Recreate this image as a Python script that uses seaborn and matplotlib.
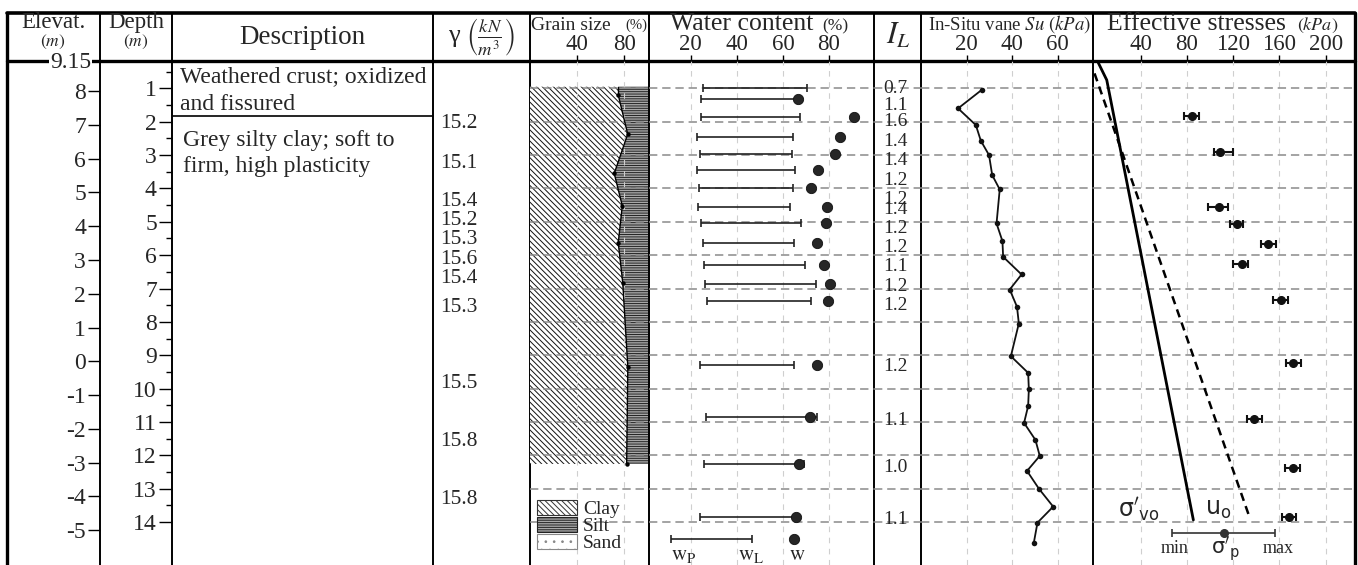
import numpy as np
import matplotlib
matplotlib.use("Agg")
import matplotlib.pyplot as plt
from matplotlib.patches import Patch
import seaborn as sns

elev_ticks = [8, 7, 6, 5, 4, 3, 2, 1, 0, -1, -2, -3, -4, -5]
ground_elev = "9.15"
depth_ticks = list(range(1, 15))
depth_minor = [d + 0.5 for d in range(0, 14)]

layer_boundary = 1.82
crust_text = ["Weathered crust; oxidized", "and fissured"]
clay_text = ["Grey silty clay; soft to", "firm, high plasticity"]

gamma_depth = [2.05, 3.25, 4.40, 4.95, 5.53, 6.13, 6.70, 7.57, 9.85, 11.6, 13.34]
gamma_val = ["15.2", "15.1", "15.4", "15.2", "15.3", "15.6", "15.4", "15.3", "15.5", "15.8", "15.8"]

grain_depth = [0.95, 1.2, 2.37, 3.55, 4.52, 5.63, 6.83, 9.35, 12.26]
clay_pct = [74.8, 74.8, 82.8, 71.4, 78.2, 74.8, 78.6, 82.9, 81.9]

wc_depth = [1.0, 1.33, 1.85, 2.45, 2.97, 3.45, 4.0, 4.57, 5.05, 5.65, 6.3, 6.87, 7.37,
            9.3, 10.86, 12.26, 13.86]
w_p = [25.2, 24.3, 24.3, 22.9, 23.9, 22.9, 23.5, 23.3, 24.5, 25.2, 25.9, 26.2, 27.1,
       23.9, 26.5, 25.8, 23.9]
w_l = [70.5, 66.6, 67.4, 64.4, 64.0, 65.2, 64.4, 63.0, 67.7, 64.7, 69.8, 74.2, 72.4,
       64.7, 74.8, 69.2, 65.7]
w_n = [np.nan, 66.6, 90.7, 84.6, 82.5, 75.2, 72.4, 79.1, 78.9, 74.8, 77.9, 80.6, 79.6,
       74.7, 71.9, 67.2, 65.7]

il_depth = [1.0, 1.5, 2.0, 2.6, 3.15, 3.75, 4.33, 4.62, 5.2, 5.77, 6.33, 6.93, 7.5,
            9.33, 10.97, 12.36, 13.94]
il_val = ["0.7", "1.1", "1.6", "1.4", "1.4", "1.2", "1.2", "1.4", "1.2", "1.2", "1.1",
          "1.2", "1.2", "1.2", "1.1", "1.0", "1.1"]

su_depth = [1.05, 1.6, 2.1, 2.57, 3.0, 3.6, 4.03, 5.05, 5.58, 6.05, 6.58, 7.03, 7.55,
            8.05, 9.03, 9.53, 10.02, 10.52, 11.03, 11.54, 12.02, 12.47, 13.01, 13.54,
            14.02, 14.62]
su = [26.6, 16.3, 24.1, 26.3, 29.9, 31.3, 34.6, 33.2, 35.8, 36.1, 44.2, 39.0, 42.2,
      43.0, 39.5, 47.1, 47.4, 47.1, 45.3, 50.3, 52.2, 46.6, 51.9, 58.1, 51.2, 49.6]

svo_depth = [0.0, 0.75, 13.94]
svo = [0.0, 10.6, 85.5]
u0_depth = [0.55, 13.9]
u0 = [0.0, 134.5]

sp_depth = [1.83, 2.92, 4.57, 5.07, 5.67, 6.27, 7.35, 9.24, 10.92, 12.37, 13.86]
sp = [84.1, 108.6, 108.0, 123.5, 150.3, 127.3, 161.1, 172.0, 138.2, 171.5, 168.3]
sp_min = [77.7, 103.4, 98.4, 117.2, 143.8, 120.1, 154.2, 165.4, 131.7, 164.8, 161.9]
sp_max = [90.4, 120.1, 115.7, 128.2, 157.0, 133.0, 167.6, 178.6, 144.6, 177.8, 174.3]

# legend samples drawn inside the columns
wc_key = {"depth": 14.5, "wp": 11.3, "wl": 46.4, "w": 64.8, "label_depth": 15.0}
sp_key = {"depth": 14.34, "min": 66.8, "p": 111.8, "max": 156.1, "label_depth": 14.8}
svo_label = (37.9, 13.6)
u0_label = (107.1, 13.6)

# ---- style ----
sns.set_theme(style="white")
plt.rcParams["font.family"] = ["Liberation Serif", "DejaVu Serif"]
plt.rcParams["mathtext.fontset"] = "stix"
plt.rcParams["axes.unicode_minus"] = False
plt.rcParams["lines.scale_dashes"] = False
plt.rcParams["hatch.linewidth"] = 0.7

W, H = 1358, 565
TOP_Y, HEAD_Y = 12.5, 60.7
D_TOP, D_BOT = 0.17, 15.29
fig = plt.figure(figsize=(W / 100, H / 100), dpi=100)

frame = fig.add_axes([0, 0, 1, 1])
frame.set_xlim(0, W)
frame.set_ylim(H, 0)
frame.axis("off")
frame.set_facecolor("none")


def px_axes(x0, x1, y0=HEAD_Y, y1=H):
    ax = fig.add_axes([x0 / W, 1 - y1 / H, (x1 - x0) / W, (y1 - y0) / H])
    ax.set_facecolor("none")
    for s in ax.spines.values():
        s.set_visible(False)
    return ax


def data_column(ax, xlim, xticks, vgrid=True):
    ax.set_ylim(D_BOT, D_TOP)
    ax.set_yticks(depth_ticks)
    ax.tick_params(axis="y", left=False, labelleft=False)
    ax.set_xlim(*xlim)
    ax.xaxis.tick_top()
    ax.set_xticks(xticks)
    ax.tick_params(axis="x", top=True, bottom=False, direction="out", length=4,
                   width=1, color="black", pad=0.2, labelsize=16.5)
    ax.set_xlabel("")
    ax.set_ylabel("")
    ax.set_axisbelow("line")
    ax.yaxis.grid(True, color="#8a8a8a", lw=1.1, linestyle=(0, (6, 3.5)))
    ax.xaxis.grid(vgrid, color="#cfcfcf", lw=0.8, linestyle=(0, (4, 4)))


# table frame
frame.plot([7, 1355], [TOP_Y, TOP_Y], color="black", lw=2.6)
frame.plot([7, 1355], [HEAD_Y, HEAD_Y], color="black", lw=2.4)
for xb in [7, 1355]:
    frame.plot([xb, xb], [TOP_Y, H], color="black", lw=2.4)
for xs in [100, 172, 433, 530, 649, 874, 921, 1093]:
    frame.plot([xs, xs], [TOP_Y, H], color="black", lw=1.4)

# header
frame.text(53, 28, "Elevat.", ha="center", va="baseline", fontsize=16.5)
frame.text(53, 42, r"$(m)$", ha="center", va="center", fontsize=12.5)
frame.text(136, 28, "Depth", ha="center", va="baseline", fontsize=16.5)
frame.text(136, 42, r"$(m)$", ha="center", va="center", fontsize=12.5)
frame.text(302, 37, "Description", ha="center", va="center", fontsize=19.5)
frame.text(481, 37, r"γ $\left(\frac{kN}{m^3}\right)$", ha="center", va="center", fontsize=19)
frame.text(531, 30, "Grain size", ha="left", va="baseline", fontsize=14)
frame.text(647, 29, "(%)", ha="right", va="baseline", fontsize=10.5)
frame.text(670, 30, "Water content", ha="left", va="baseline", fontsize=18.5)
frame.text(822, 30, "(%)", ha="left", va="baseline", fontsize=12.5)
frame.text(898, 36, r"$I_L$", ha="center", va="center", fontsize=22)
frame.text(928, 30, r"In-Situ vane $Su$ $(kPa)$", ha="left", va="baseline", fontsize=13.5)
frame.text(1107, 30, "Effective stresses", ha="left", va="baseline", fontsize=18.5)
frame.text(1297, 30, r"$(kPa)$", ha="left", va="baseline", fontsize=13)

# elevation axis
ax_el = px_axes(100, 172)
ax_el.set_ylim(-6.03, 8.90)
ax_el.set_yticks(elev_ticks)
ax_el.set_yticklabels([str(e) for e in elev_ticks])
ax_el.set_xticks([])
ax_el.tick_params(axis="y", left=True, direction="out", length=8.6, width=1,
                  color="black", pad=1.5, labelsize=17)
ax_el.annotate(ground_elev, xy=(0, 1), xycoords="axes fraction", xytext=(-6.5, -1),
               textcoords="offset points", ha="right", va="center", fontsize=17,
               bbox=dict(boxstyle="square,pad=0.05", fc="white", ec="none"))

# depth axis + description
ax_ds = px_axes(172, 433)
ax_ds.set_ylim(D_BOT, D_TOP)
ax_ds.set_xlim(0, 1)
ax_ds.set_xticks([])
ax_ds.set_yticks(depth_ticks)
ax_ds.set_yticks(depth_minor, minor=True)
ax_ds.tick_params(axis="y", which="major", left=True, direction="out", length=9.4,
                  width=1, color="black", pad=1.5, labelsize=17)
ax_ds.tick_params(axis="y", which="minor", left=True, direction="out", length=4.3,
                  width=1, color="black")
ax_ds.axhline(layer_boundary, color="black", lw=1.2)
ax_ds.text(0.03, 0.65, crust_text[0], va="center", ha="left", fontsize=17)
ax_ds.text(0.03, 1.47, crust_text[1], va="center", ha="left", fontsize=17)
ax_ds.text(0.042, 2.55, clay_text[0], va="center", ha="left", fontsize=17)
ax_ds.text(0.042, 3.35, clay_text[1], va="center", ha="left", fontsize=17)

# unit weight
ax_g = px_axes(433, 530)
ax_g.set_ylim(D_BOT, D_TOP)
ax_g.set_xlim(0, 1)
ax_g.set_xticks([])
ax_g.set_yticks([])
for d, g in zip(gamma_depth, gamma_val):
    ax_g.text(0.07, d, g, va="center", ha="left", fontsize=15.5)

# grain size
clay_hatch = "\\\\\\\\\\\\"
silt_hatch = "-------"
ax_gs = px_axes(530, 648)
ax_gs.fill_betweenx(grain_depth, 0, clay_pct, facecolor="white", edgecolor="#111111",
                    hatch=clay_hatch, lw=0, zorder=1)
ax_gs.fill_betweenx(grain_depth, clay_pct, 100, facecolor="#a8a8a8", edgecolor="#222222",
                    hatch=silt_hatch, lw=0, zorder=1)
sns.lineplot(x=clay_pct[1:], y=grain_depth[1:], sort=False, estimator=None, ax=ax_gs,
             color="black", lw=1.0, marker="o", markersize=3.2, markeredgewidth=0, zorder=3)
ax_gs.plot(clay_pct[:2], grain_depth[:2], color="black", lw=1.0, zorder=3)
data_column(ax_gs, (0, 100), [40, 80])
ax_gs.legend(handles=[Patch(facecolor="white", edgecolor="#333333", hatch=clay_hatch, lw=0.8, label="Clay"),
                      Patch(facecolor="#a8a8a8", edgecolor="#222222", hatch=silt_hatch, lw=0.8, label="Silt"),
                      Patch(facecolor="white", edgecolor="#888888", hatch="..", lw=0.8, label="Sand")],
             loc="lower left", bbox_to_anchor=(0.06, 0.025), frameon=False, fontsize=14,
             handlelength=2.05, handleheight=0.78, handletextpad=0.3, labelspacing=-0.05,
             borderpad=0, borderaxespad=0)

# water content
ax_w = px_axes(649, 874)
wp_a, wl_a = np.array(w_p), np.array(w_l)
ax_w.errorbar(wp_a, wc_depth, xerr=[np.zeros_like(wp_a), wl_a - wp_a], fmt="none",
              ecolor="#222222", elinewidth=1.2, capsize=3, capthick=1.2, zorder=3)
sns.scatterplot(x=w_n, y=wc_depth, ax=ax_w, color="#262626", s=55, edgecolor="#111111",
                linewidth=0.6, zorder=4)
ax_w.errorbar([wc_key["wp"]], [wc_key["depth"]], xerr=[[0], [wc_key["wl"] - wc_key["wp"]]],
              fmt="none", ecolor="#222222", elinewidth=1.2, capsize=3, capthick=1.2)
sns.scatterplot(x=[wc_key["w"]], y=[wc_key["depth"]], ax=ax_w, color="#262626", s=55,
                edgecolor="#111111", linewidth=0.6)
ax_w.text(wc_key["wp"], wc_key["label_depth"], r"$\mathrm{w_P}$", ha="left", va="center", fontsize=15)
ax_w.text(wc_key["wl"], wc_key["label_depth"], r"$\mathrm{w_L}$", ha="center", va="center", fontsize=15)
ax_w.text(wc_key["w"] + 1.5, wc_key["label_depth"], r"$\mathrm{w}$", ha="center", va="center", fontsize=15)
data_column(ax_w, (1.95, 99.5), [20, 40, 60, 80])

# liquidity index
ax_il = px_axes(874, 921)
for d, v in zip(il_depth, il_val):
    ax_il.text(0.19, d, v, transform=ax_il.get_yaxis_transform(), va="center", ha="left",
               fontsize=14)
data_column(ax_il, (0, 1), [], vgrid=False)

# vane strength
ax_v = px_axes(921, 1093)
sns.lineplot(x=su, y=su_depth, sort=False, estimator=None, ax=ax_v, color="#111111",
             lw=1.3, marker="o", markersize=4, markeredgewidth=0)
data_column(ax_v, (0, 75.6), [20, 40, 60])

# effective stresses
ax_e = px_axes(1093, 1355)
sns.lineplot(x=svo, y=svo_depth, sort=False, estimator=None, ax=ax_e, color="black", lw=2.0)
sns.lineplot(x=u0, y=u0_depth, sort=False, estimator=None, ax=ax_e, color="black", lw=1.8,
             linestyle=(0, (6, 4)))
sp_a = np.array(sp)
ax_e.errorbar(sp_a, sp_depth, xerr=[sp_a - np.array(sp_min), np.array(sp_max) - sp_a],
              fmt="o", color="#111111", markersize=5.5, elinewidth=1.5, capsize=3, capthick=1.5,
              zorder=4)
ax_e.errorbar([sp_key["p"]], [sp_key["depth"]],
              xerr=[[sp_key["p"] - sp_key["min"]], [sp_key["max"] - sp_key["p"]]],
              fmt="o", color="#333333", markersize=5.5, elinewidth=1.2, capsize=3, capthick=1.2)
ax_e.text(sp_key["min"] + 2.5, sp_key["label_depth"], "min", ha="center", va="center", fontsize=13)
ax_e.text(sp_key["max"] + 2.5, sp_key["label_depth"], "max", ha="center", va="center", fontsize=13)
ax_e.text(sp_key["p"] + 1, sp_key["label_depth"], r"$\mathrm{\sigma}'_{\mathrm{p}}$", ha="center",
          va="center", fontsize=15, family="DejaVu Sans", math_fontfamily="dejavusans")
ax_e.text(*svo_label, r"$\mathrm{\sigma}'_{\mathrm{vo}}$", ha="center", va="center", fontsize=17,
          family="DejaVu Sans", math_fontfamily="dejavusans")
ax_e.text(*u0_label, r"$\mathrm{u_o}$", ha="center", va="center", fontsize=17,
          family="DejaVu Sans", math_fontfamily="dejavusans")
data_column(ax_e, (-1.3, 225.3), [40, 80, 120, 160, 200])

fig.savefig("out.png", dpi=100)
